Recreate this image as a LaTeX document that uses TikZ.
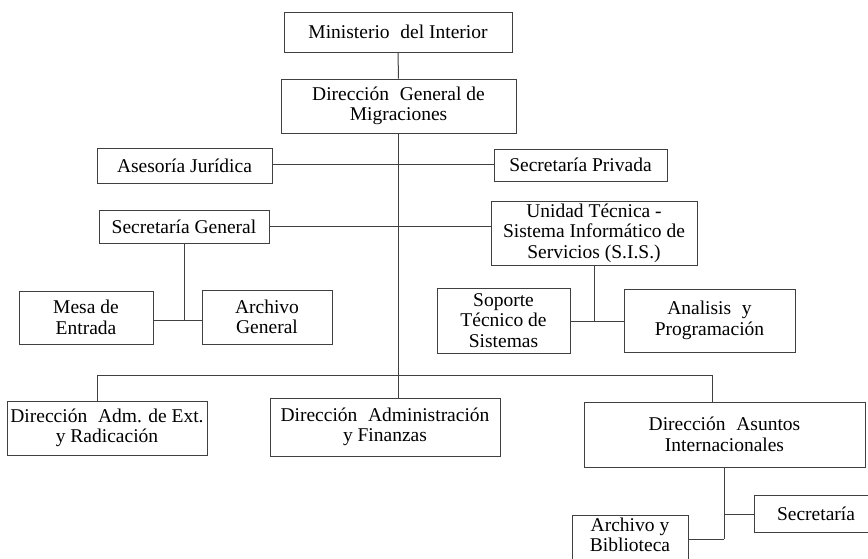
\documentclass[tikz,border=0pt]{standalone}
\usepackage{fontspec}
\setmainfont{Liberation Serif}
\newcommand{\ds}{\hspace{0.3em}}
\begin{document}
\begin{tikzpicture}[x=1pt,y=-1pt,
  box/.style={draw=black!75, line width=1pt, rectangle, inner sep=0pt, align=center,
     font=\fontsize{19.5}{20.5}\selectfont, fill=white},
  lbl/.style={inner sep=0pt, align=center, font=\fontsize{19.5}{19.5}\selectfont},
  conn/.style={draw=black!75, line width=1pt}]
\useasboundingbox[fill=white] (0,0) rectangle (868,558);
\begin{scope}
\clip (0,0) rectangle (868,558);
\node[box, minimum width=228pt, minimum height=40pt] (min) at (398,32) {Ministerio\ds{} del Interior};
\node[box, minimum width=235pt, minimum height=54pt] (dgm) at (398.5,106) {Dirección\ds{} General de\\Migraciones};
\node[box, minimum width=175pt, minimum height=35pt] (ase) at (184.5,166) {Asesoría Jurídica};
\node[box, minimum width=173pt, minimum height=32pt] (spriv) at (580.5,165) {Secretaría Privada};
\node[box, minimum width=170pt, minimum height=33pt] (sgen) at (184,226.5) {Secretaría General};
\node[box, minimum width=206pt, minimum height=64pt] (ut) at (594,233) {Unidad Técnica -\\Sistema Informático de\\Servicios (S.I.S.)};
\node[box, minimum width=134pt, minimum height=53pt] (mesa) at (86,317.5) {Mesa de\\Entrada};
\node[box, minimum width=130pt, minimum height=54pt] (archg) at (267,317) {Archivo\\General};
\node[box, minimum width=133pt, minimum height=65pt] (sop) at (503.5,320.5) {Soporte\\Técnico de\\Sistemas};
\node[box, minimum width=171pt, minimum height=63pt] (ana) at (709.5,320.5) {Analisis\ds{} y\\Programación};
\node[box, minimum width=200pt, minimum height=54pt] (dae) at (107,428) {Dirección\ds{} Adm. de Ext.\\y Radicación};
\node[box, minimum width=230pt, minimum height=58pt] (daf) at (385,427) {Dirección\ds{} Administración\\y Finanzas};
\node[box, minimum width=281pt, minimum height=65pt] (dai) at (724.5,434.5) {Dirección\ds{} Asuntos\\Internacionales};
\node[box, minimum width=124pt, minimum height=37pt, text width=120pt] (sec) at (816,513.5) {Secretaría\hspace*{4pt}};
\node[box, minimum width=116pt, minimum height=60pt, anchor=north] (ayb) at (630,515) {};
\node[lbl] (ayblbl) at (630,535) {Archivo y\\Biblioteca};
\end{scope}
\coordinate (bl) at (97,375);
\coordinate (br) at (712,375);
\coordinate (j1) at (184,320);
\coordinate (j2) at (594,321);
\coordinate (j3) at (724,514);
\coordinate (j4) at (724,539);
\draw[conn] (min.south) -- (dgm.north);
\draw[conn] (dgm.south) -- (dgm.south |- daf.north);
\draw[conn] (ase.east |- 0,164) -- (spriv.west |- 0,164);
\draw[conn] (sgen.east) -- (sgen.east -| ut.west);
\draw[conn] (sgen.south) -- (j1);
\draw[conn] (mesa.east |- j1) -- (archg.west |- j1);
\draw[conn] (ut.south) -- (j2);
\draw[conn] (sop.east |- j2) -- (ana.west |- j2);
\draw[conn] (bl) -- (br);
\draw[conn] (bl) -- (bl |- dae.north);
\draw[conn] (br) -- (br |- dai.north);
\draw[conn] (j3 |- dai.south) -- (j4);
\draw[conn] (j3) -- (sec.west |- j3);
\draw[conn] (ayb.east |- j4) -- (j4);
\end{tikzpicture}
\end{document}
